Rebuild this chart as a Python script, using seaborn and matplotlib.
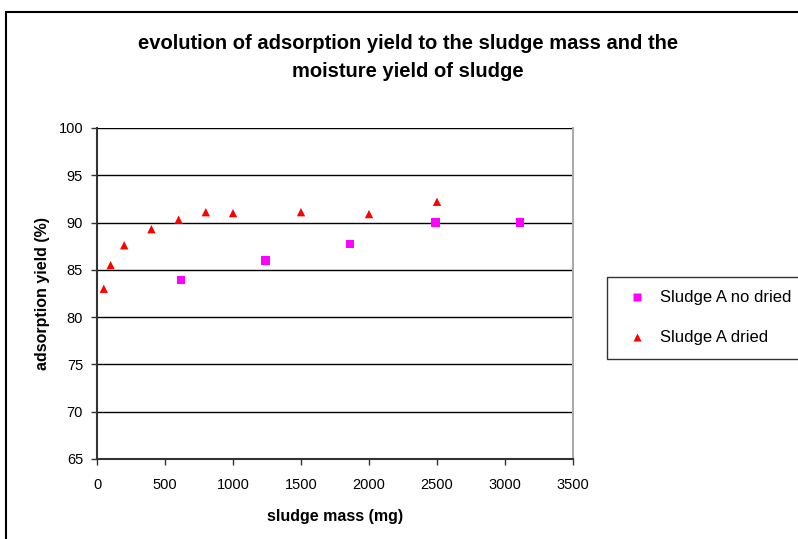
import pandas as pd
import matplotlib.pyplot as plt
import seaborn as sns
from matplotlib.patches import Rectangle

# sludge A not dried
mass_wet = [620, 1240, 1860, 2490, 3110]
yield_wet = [83.9, 86.0, 87.7, 90.0, 90.0]

# sludge A dried
mass_dry = [50, 100, 200, 400, 600, 800, 1000, 1500, 2000, 2500]
yield_dry = [83.0, 85.5, 87.6, 89.3, 90.3, 91.1, 91.0, 91.1, 90.9, 92.2]

labels = ['Sludge A no dried', 'Sludge A dried']

df = pd.concat([
    pd.DataFrame({'mass': mass_wet, 'yield': yield_wet, 'sample': labels[0]}),
    pd.DataFrame({'mass': mass_dry, 'yield': yield_dry, 'sample': labels[1]}),
])

sns.set_style('white')
plt.rcParams['font.family'] = ['Liberation Sans', 'DejaVu Sans']
plt.rcParams['text.color'] = 'black'
plt.rcParams['axes.labelcolor'] = 'black'
plt.rcParams['xtick.color'] = 'black'
plt.rcParams['ytick.color'] = 'black'

fig = plt.figure(figsize=(7.98, 5.39), dpi=100)
ax = fig.add_axes([97/798, 1-459/539, 476/798, 331/539])

sns.scatterplot(data=df, x='mass', y='yield', hue='sample', style='sample',
                palette={labels[0]: '#ff00ff', labels[1]: '#ff0000'},
                markers={labels[0]: 's', labels[1]: '^'},
                s=36, edgecolor='none', ax=ax, zorder=3)

ax.set_xlim(0, 3500)
ax.set_ylim(65, 100)
ax.set_xticks(range(0, 3501, 500))
ax.set_yticks(range(65, 101, 5))
ax.yaxis.grid(True, color='black', lw=1)
ax.set_axisbelow(True)
ax.tick_params(axis='both', direction='out', length=4, width=1, color='#333333',
               labelsize=10.5, bottom=True, left=True)
ax.tick_params(axis='x', pad=10)
ax.tick_params(axis='y', pad=6)
for s in ['left', 'bottom']:
    ax.spines[s].set_color('#333333')
    ax.spines[s].set_linewidth(1.5)
ax.spines['top'].set_visible(False)
ax.spines['right'].set_color('#aaaaaa')
ax.spines['right'].set_linewidth(1.5)

ax.set_xlabel('sludge mass (mg)', fontsize=11.5, fontweight='bold', labelpad=12)
ax.set_ylabel('adsorption yield (%)', fontsize=11.5, fontweight='bold', labelpad=6)

fig.text(0.511, 1-57.5/539, 'evolution of adsorption yield to the sludge mass and the\nmoisture yield of sludge',
         ha='center', va='center', fontsize=14.5, fontweight='bold', linespacing=1.65)

leg = ax.legend(loc='upper left', bbox_to_anchor=(607/798, 1-277/539),
                bbox_transform=fig.transFigure, frameon=True, fancybox=False,
                fontsize=12, borderpad=0.8, labelspacing=1.5, handletextpad=0.4,
                borderaxespad=0)
leg.get_frame().set_edgecolor('black')
leg.get_frame().set_linewidth(1)

fig.patches.append(Rectangle((6/798, -0.05), 1.1, 1-12/539+0.05, transform=fig.transFigure,
                             fill=False, edgecolor='black', lw=1.5))

plt.savefig('out.png', dpi=100)
